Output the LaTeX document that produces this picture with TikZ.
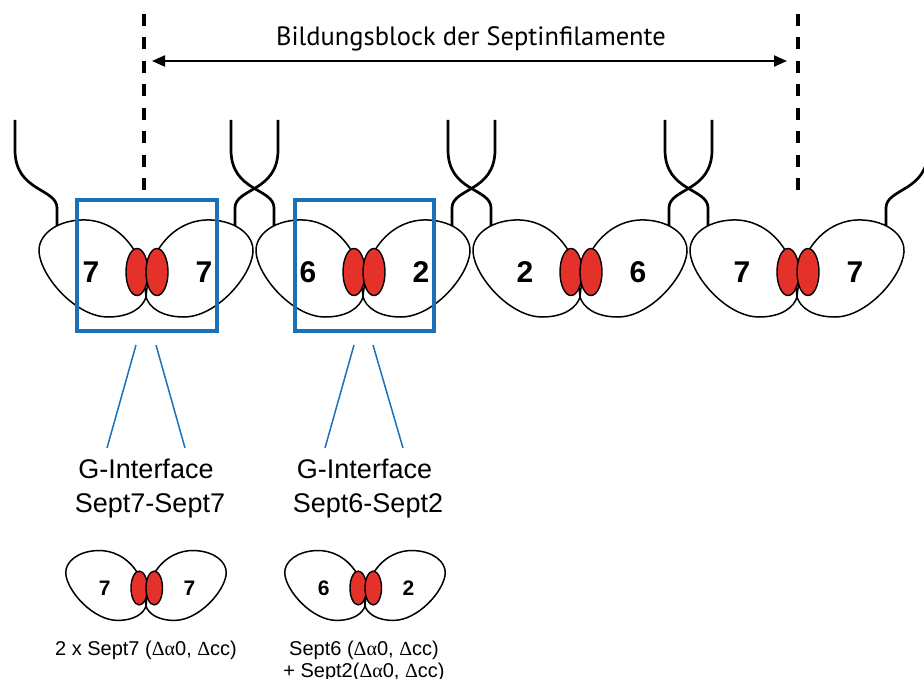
\documentclass[tikz,border=0pt]{standalone}
\usepackage{fontspec}
\setmainfont{Liberation Sans}
\newfontfamily\titlefont{PT Sans}
\newfontfamily\greekfont{Liberation Serif}
\usetikzlibrary{arrows.meta}
\definecolor{boxblue}{RGB}{26,113,184}
\definecolor{gred}{RGB}{228,50,42}
\begin{document}
\begin{tikzpicture}[x=1pt,y=-1pt,
  lobe/.style={draw=black, line width=1.5pt, fill=white},
  gdomain/.style={draw=black, line width=1.4pt, fill=gred},
  fil/.style={draw=black, line width=2.7pt},
  num/.style={font=\fontsize{30}{30}\selectfont\bfseries, inner sep=0pt},
  smallnum/.style={font=\fontsize{21}{21}\selectfont\bfseries, inner sep=0pt},
  gbox/.style={draw=boxblue, line width=4pt, inner sep=0pt},
  lead/.style={draw=boxblue, line width=1.5pt},
  marker/.style={draw=black, line width=3.5pt, dash pattern=on 12pt off 11.5pt},
  spanarrow/.style={draw=black, line width=2pt, {Triangle[length=13pt,width=11pt]}-{Triangle[length=13pt,width=11pt]}},
  lbl/.style={font=\fontsize{27}{27}\selectfont, inner sep=0pt, anchor=base},
  captext/.style={font=\fontsize{20}{20}\selectfont, inner sep=0pt, anchor=base},
  pics/septpair/.style n args={3}{code={
    % left subunit
    \draw[lobe] (0,0) .. controls (-2,-20) and (-5,-35) .. (-12,-47)
      .. controls (-25,-68) and (-45,-78) .. (-65,-77)
      .. controls (-90,-76) and (-108,-62) .. (-107,-45)
      .. controls (-105,-20) and (-70,20) .. (-38,20)
      .. controls (-15,20) and (-3,10) .. (0,0) -- cycle;
    % right subunit
    \draw[lobe] (0,0) .. controls (2,-20) and (5,-35) .. (12,-47)
      .. controls (25,-68) and (45,-78) .. (65,-77)
      .. controls (90,-76) and (108,-62) .. (107,-45)
      .. controls (105,-20) and (70,20) .. (38,20)
      .. controls (15,20) and (3,10) .. (0,0) -- cycle;
    % G domains
    \draw[gdomain] (-9,-25) ellipse [x radius=11, y radius=23.5];
    \draw[gdomain] (11,-25) ellipse [x radius=11, y radius=23.5];
    \node[#3] (-l) at (-55,-25) {#1};
    \node[#3] (-r) at (58,-25) {#2};
  }}]
\useasboundingbox (0,0) rectangle (924,679);

% filaments (C-terminal coiled coils)
\begin{scope}
\clip (0,0) rectangle (924,679);
\foreach \xa/\xt in {57/15, 235/278, 274/231, 452/495, 491/448, 669/712, 708/665, 886/928}{
  \draw[fil] (\xa,229) -- (\xa,208) .. controls (\xa,188) and (\xt,192) .. (\xt,150) -- (\xt,120);
}
\end{scope}

% septin filament: 7-7 / 6-2 / 2-6 / 7-7
\pic (p1) at (146,297) {septpair={7}{7}{num}};
\pic (p2) at (363,297) {septpair={6}{2}{num}};
\pic (p3) at (580,297) {septpair={2}{6}{num}};
\pic (p4) at (797,297) {septpair={7}{7}{num}};

% building block markers
\coordinate (mL) at (144,14);
\coordinate (mLb) at (144,191);
\coordinate (mR) at (798,14);
\coordinate (mRb) at (798,191);
\draw[marker] (mL) -- (mLb);
\draw[marker] (mR) -- (mRb);
\coordinate (aL) at (152,61);
\coordinate (aR) at (787,61);
\draw[spanarrow] (aL) -- (aR);
\node[inner sep=0pt, anchor=base, font=\titlefont\fontsize{26.5}{26.5}\selectfont] (title) at (471,46) {Bildungsblock der Septinfilamente};

% G-interface boxes
\node[gbox, minimum width=140pt, minimum height=131pt] (box1) at (147,265.5) {};
\node[gbox, minimum width=139pt, minimum height=131pt] (box2) at (364.5,265.5) {};

% labels
\node[lbl] (g1) at (146,478) {G-Interface};
\node[lbl] (s1) at (150,512) {Sept7-Sept7};
\node[lbl] (g2) at (364.5,478) {G-Interface};
\node[lbl] (s2) at (368,512) {Sept6-Sept2};

% leader lines
\coordinate (l1a) at (136,345); \coordinate (l1b) at (107,448);
\coordinate (l2a) at (156,345); \coordinate (l2b) at (185,448);
\coordinate (l3a) at (354,345); \coordinate (l3b) at (325,448);
\coordinate (l4a) at (373,345); \coordinate (l4b) at (403,448);
\draw[lead] (l1a) -- (l1b);
\draw[lead] (l2a) -- (l2b);
\draw[lead] (l3a) -- (l3b);
\draw[lead] (l4a) -- (l4b);

% isolated constructs
\pic[xscale=0.75, yscale=0.72] (c1) at (146,606) {septpair={7}{7}{smallnum}};
\pic[xscale=0.75, yscale=0.72] (c2) at (365,606) {septpair={6}{2}{smallnum}};

\node[captext] (cap1) at (146,655) {2 x Sept7 ({\greekfont Δα}0, {\greekfont Δ}cc)};
\node[captext] (cap2) at (364,655) {Sept6 ({\greekfont Δα}0, {\greekfont Δ}cc)};
\node[captext] (cap3) at (364,677) {+ Sept2({\greekfont Δα}0, {\greekfont Δ}cc)};
\end{tikzpicture}
\end{document}
